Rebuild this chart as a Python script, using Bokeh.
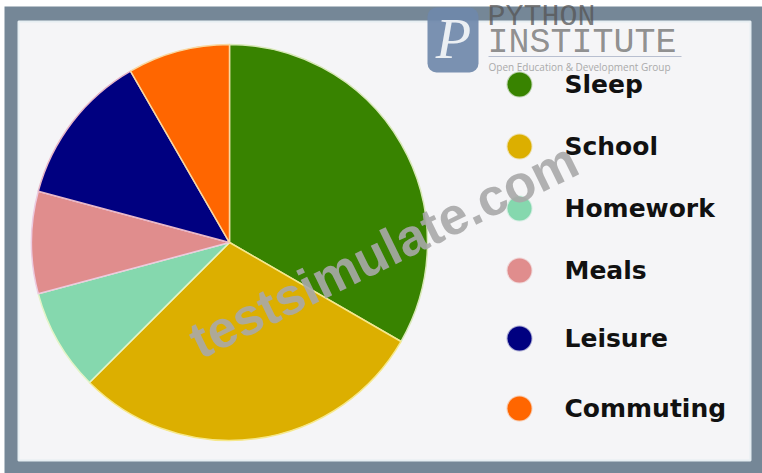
from math import pi
from bokeh.plotting import figure
from bokeh.embed import file_html
from bokeh.resources import INLINE
from bokeh.core.properties import value as fixed
from bokeh.models import ColumnDataSource

categories = ["Sleep", "School", "Homework", "Meals", "Leisure", "Commuting"]
hours = [8, 7, 2, 2, 3, 2]
colors = ["#388300", "#dcaf00", "#85d8ae", "#e08d8d", "#000080", "#ff6600"]
edge_colors = ["#d8e8b8", "#f6e88a", "#e4f4c8", "#eccbe0", "#e8b8c8", "#f8d8a0"]

W, H = 762, 473
CX, CY, R = 229, 242, 198
LEG_X, TXT_X = 519, 564
LEG_Y = [84, 146, 208, 270, 338, 408]

def Y(py):
    return H - py

total = sum(hours)
ends, acc = [], 0
for h in hours:
    acc += h
    ends.append(acc)
starts = [0] + ends[:-1]
start_a = [pi / 2 - 2 * pi * e / total for e in ends]
end_a = [pi / 2 - 2 * pi * s / total for s in starts]

p = figure(width=W, height=H, x_range=(0, W), y_range=(0, H), output_backend="svg",
           toolbar_location=None, min_border=0, outline_line_color=None,
           background_fill_color="#ffffff", border_fill_color="#ffffff")
p.axis.visible = False
p.grid.visible = False
p.styles = {"position": "absolute", "left": "0", "top": "0"}

# frame and inner card
p.quad(left=4, right=W, bottom=0, top=Y(6), fill_color="#758797", line_color=None)
p.quad(left=18, right=750, bottom=Y(460), top=Y(21), fill_color="#f5f5f7", line_color="#e6eef2", line_width=2)

src = ColumnDataSource(dict(start=start_a, end=end_a, color=colors, edge=edge_colors, name=categories))
p.wedge(x=CX, y=Y(CY), radius=R, start_angle="start", end_angle="end", source=src,
        fill_color="color", line_color="edge", line_width=1.5)

leg = ColumnDataSource(dict(x=[LEG_X] * 6, tx=[TXT_X] * 6, y=[Y(v) for v in LEG_Y], name=categories, color=colors))
p.scatter(x="x", y="y", source=leg, size=24, fill_color="color", line_color="color", line_alpha=0.3, line_width=2)
p.text(x="tx", y="y", text="name", source=leg, text_font=fixed("DejaVu Sans"), text_font_style="bold",
       text_font_size="25px", text_color="#111111", text_baseline="middle", text_align="left")

# watermark logo
p.quad(left=427, right=478, bottom=Y(72), top=Y(7), fill_color="#6f88aa", fill_alpha=0.92, line_color=None, border_radius=9)
p.text(x=[453], y=[Y(38)], text=["P"], text_font=fixed("Liberation Serif"), text_font_style="italic",
       text_font_size="58px", text_color="#ffffff", text_align="center", text_baseline="middle", text_alpha=0.85)
p.text(x=[487], y=[Y(16)], text=["PYTHON"], text_font=fixed("Liberation Mono"), text_font_size="30px",
       text_color="#555555", text_alpha=0.75, text_baseline="middle")
p.text(x=[487], y=[Y(42)], text=["INSTITUTE"], text_font=fixed("Liberation Mono"), text_font_size="35px",
       text_color="#555555", text_alpha=0.65, text_baseline="middle")
p.segment(x0=[488], x1=[681], y0=[Y(56)], y1=[Y(56)], line_color="#b8bfd0", line_width=1)
p.text(x=[488], y=[Y(66)], text=["Open Education & Development Group"], text_font=fixed("Open Sans"),
       text_font_size="10px", text_color="#aaaaaa", text_baseline="middle")

# testsimulate watermark
p.text(x=[192], y=[Y(343)], text=["testsimulate.com"], angle=0.455, text_font=fixed("Liberation Sans"),
       text_font_style="bold", text_font_size="52px", text_color="#a8a8a8", text_alpha=0.9,
       text_baseline="alphabetic", text_align="left")

open("out.html", "w").write(file_html(p, INLINE))
